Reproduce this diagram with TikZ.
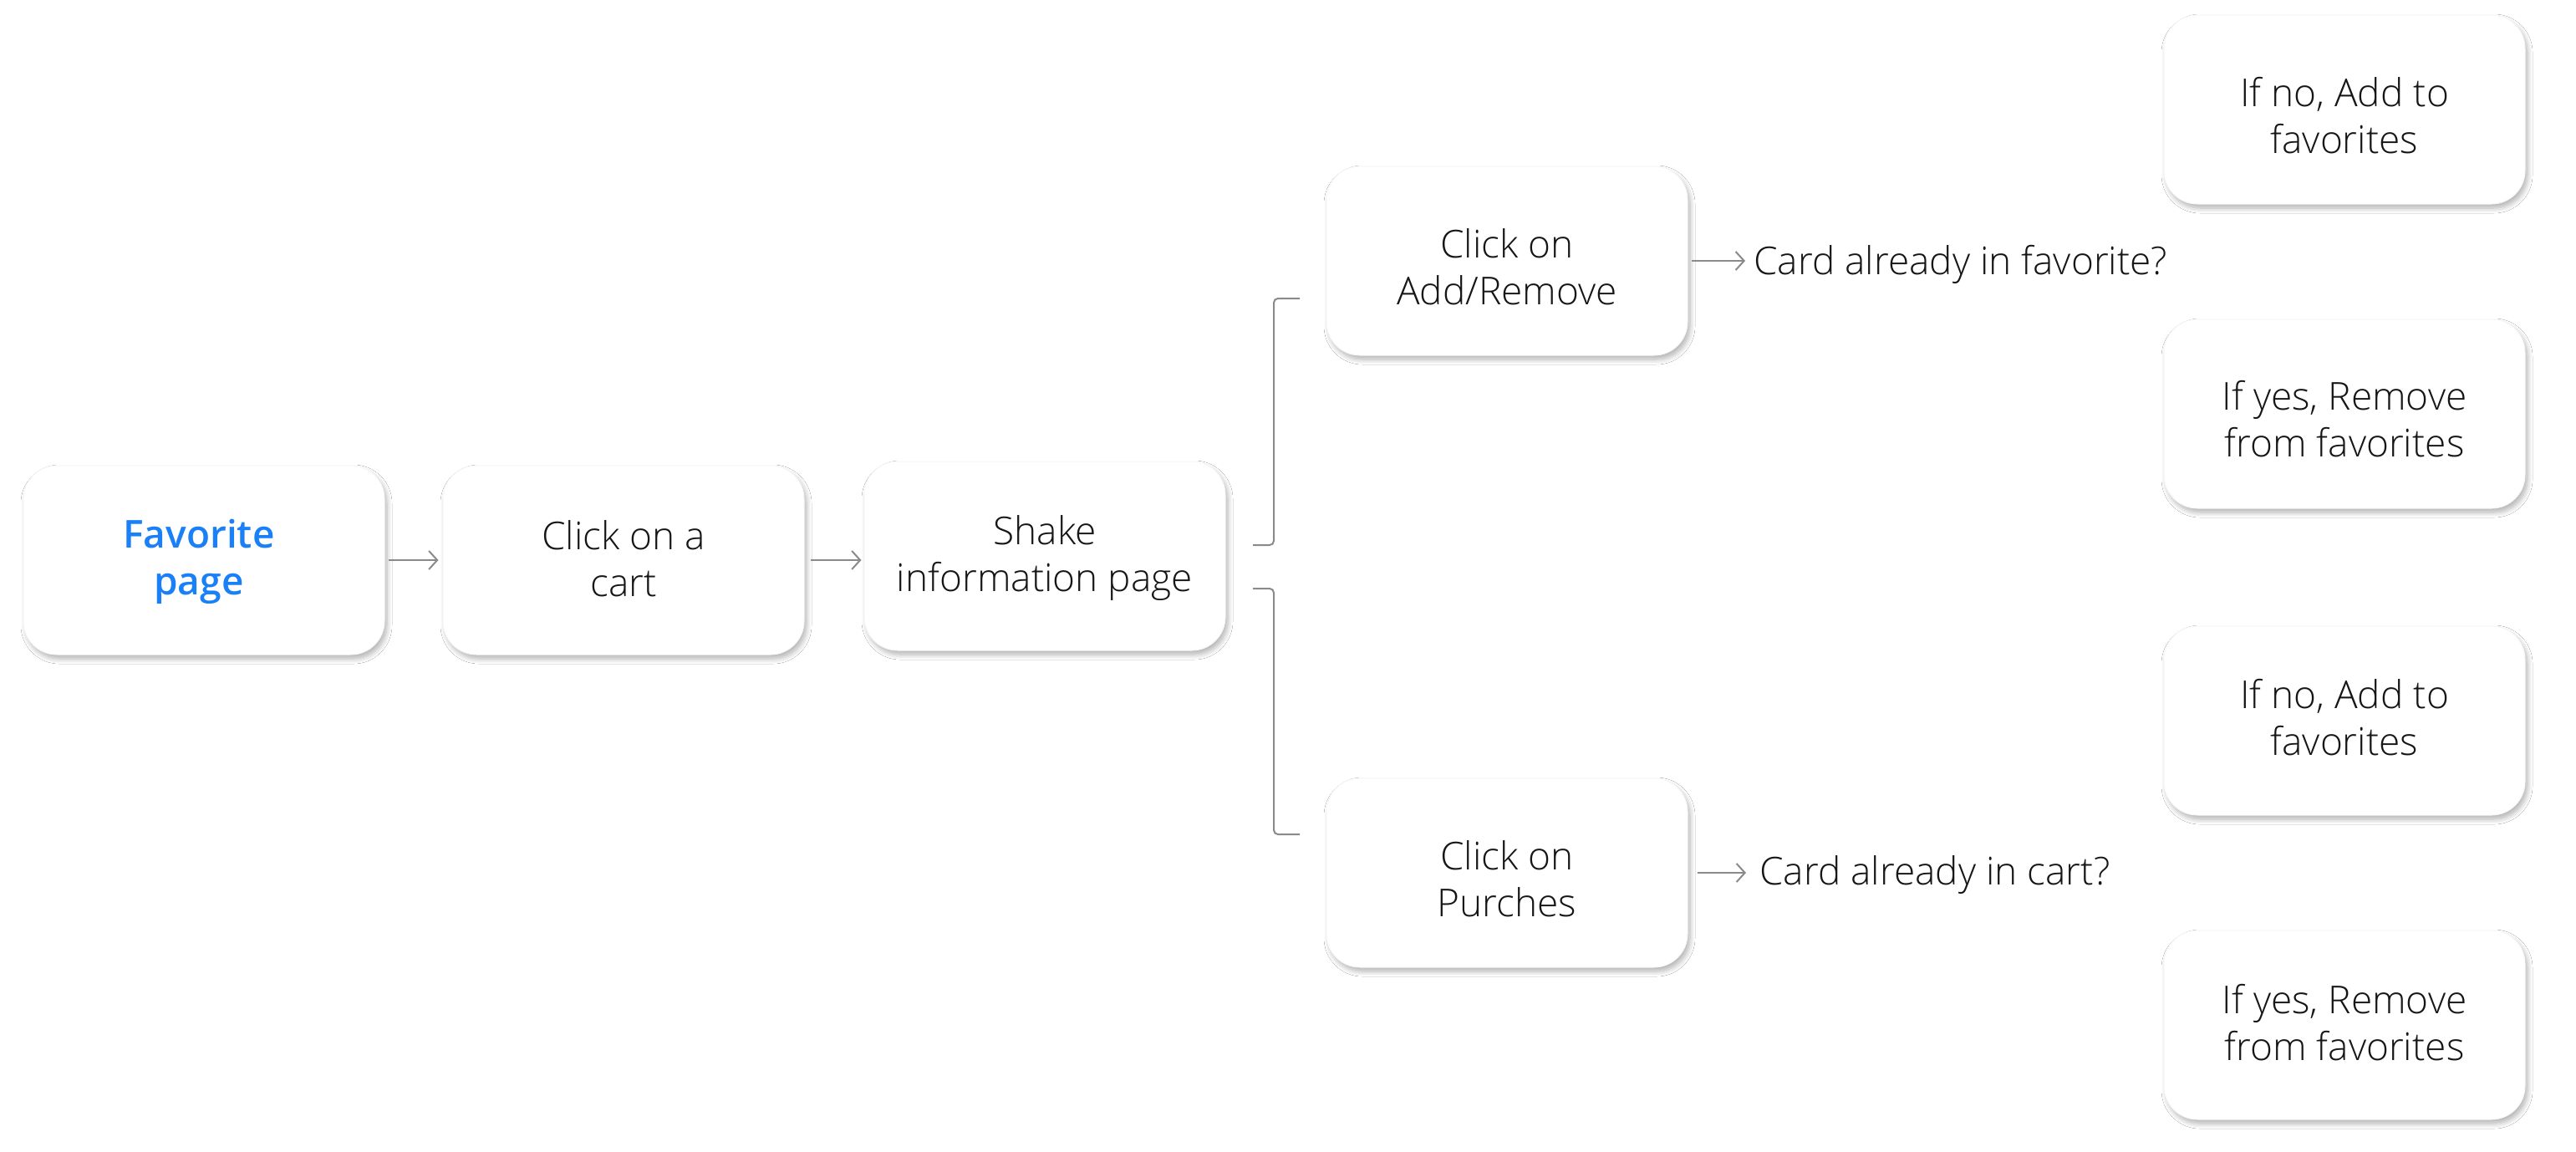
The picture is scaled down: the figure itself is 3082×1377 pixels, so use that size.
\documentclass[tikz,border=0pt]{standalone}
\usepackage{fontspec}
\IfFontExistsTF{Open Sans Light}{\setmainfont{Open Sans Light}}{%
  \IfFontExistsTF{OpenSans-Light}{\setmainfont{OpenSans-Light}}{\setmainfont{Open Sans}}}
\IfFontExistsTF{Open Sans SemiBold}{\newfontfamily\favfont{Open Sans SemiBold}}{%
  \IfFontExistsTF{Open Sans Semibold}{\newfontfamily\favfont{Open Sans Semibold}}{\newfontfamily\favfont{Open Sans Bold}}}
\usetikzlibrary{arrows.meta,shadows,shadows.blur}
\definecolor{txt}{HTML}{161616}
\definecolor{linegray}{HTML}{8A8A8A}
\definecolor{favblue}{HTML}{1A80F7}
\begin{document}
\begin{tikzpicture}[x=1pt,y=-1pt,
  box/.style={rectangle, rounded corners=40pt, fill=white, draw=black!3, line width=1pt,
    minimum width=432pt, minimum height=226pt,
    blur shadow={shadow xshift=3pt, shadow yshift=-5pt, shadow blur steps=8,
      shadow blur radius=6pt, shadow opacity=30}},
  btext/.style={align=center, inner sep=0pt, text=txt, font=\fontsize{46}{56}\selectfont},
  link/.style={draw=linegray, line width=2pt, -{Straight Barb[length=10pt,width=22pt,line width=2pt]}},
  brk/.style={draw=linegray, line width=2pt, rounded corners=5pt},
  qtext/.style={font=\fontsize{46}{56}\selectfont, text=txt, anchor=base west, inner sep=0pt}
]
\fill[white] (0,0) rectangle (3082,1377);
\useasboundingbox (0,0) rectangle (3082,1377);

% boxes
\node[box] (fav) at (244,670) {};
\node[box] (cart) at (746,670) {};
\node[box] (shake) at (1250,665) {};
\node[box] (addrm) at (1803,312) {};
\node[box] (purch) at (1803,1044) {};
\node[box] (r1) at (2805,131) {};
\node[box] (r2) at (2805,495) {};
\node[box] (r3) at (2805,862) {};
\node[box] (r4) at (2805,1226) {};

% box texts
\node[btext, text=favblue, font=\favfont\fontsize{46}{56}\selectfont] (favt) at ([xshift=-6pt,yshift=-2pt]fav.center) {Favorite\\page};
\node[btext] (cartt) at ([yshift=2pt]cart.center) {Click on a\\cart};
\node[btext] (shaket) at ([yshift=-3pt]shake.center) {Shake\\information page};
\node[btext] (addrmt) at ([yshift=-7pt]addrm.center) {Click on\\Add/Remove};
\node[btext] (purcht) at ([yshift=-7pt]purch.center) {Click on\\Purches};
\node[btext] (r1t) at ([yshift=-7pt]r1.center) {If no, Add to\\favorites};
\node[btext] (r2t) at ([yshift=-6pt]r2.center) {If yes, Remove\\from favorites};
\node[btext] (r3t) at ([yshift=4pt]r3.center) {If no, Add to\\favorites};
\node[btext] (r4t) at ([yshift=3pt]r4.center) {If yes, Remove\\from favorites};

% questions
\node[qtext] (qfav) at (2098,328) {Card already in favorite?};
\node[qtext] (qcart) at (2105,1058) {Card already in cart?};

% arrows
\draw[link, shorten <=4pt, shorten >=5pt] (fav.east) -- (fav.east -| cart.west);
\draw[link, shorten <=7pt, shorten >=3pt] (cart.east) -- (cart.east -| shake.west);
\draw[link, shorten <=4pt, shorten >=10pt] (addrm.east) -- (addrm.east -| qfav.west);
\draw[link, shorten <=11pt, shorten >=16pt] (purch.east) -- (purch.east -| qcart.west);

% brackets
\coordinate (b1s) at (1499,652);
\coordinate (b1e) at (1555,357);
\coordinate (b2s) at (1499,704);
\coordinate (b2e) at (1555,998);
\draw[brk] (b1s) -- ++(25,0) |- (b1e);
\draw[brk] (b2s) -- ++(25,0) |- (b2e);
\end{tikzpicture}
\end{document}
